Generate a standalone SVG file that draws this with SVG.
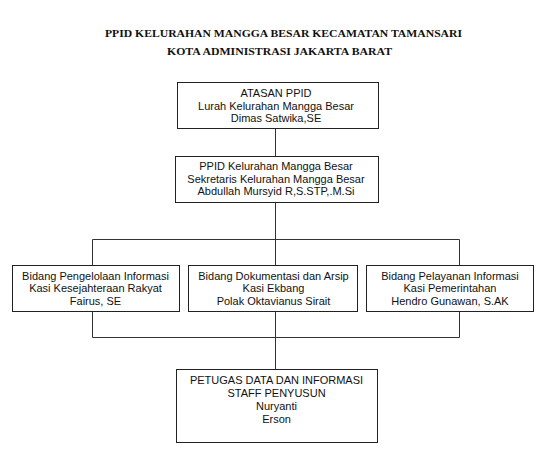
<svg xmlns="http://www.w3.org/2000/svg" width="547" height="468" viewBox="0 0 547 468">
<style>
.title{font-family:"Liberation Serif","DejaVu Serif",serif;font-weight:bold;font-size:11px;fill:#111;text-anchor:middle}
.box{fill:#fff;stroke:#222;stroke-width:1}
.t{font-family:"Liberation Sans",Arial,sans-serif;font-size:11px;fill:#111;text-anchor:middle}
.c{fill:none;stroke:#333;stroke-width:1}
</style>
<rect width="547" height="468" fill="#fff"/>
<g id="title">
<text class="title" x="283.5" y="37" textLength="357" lengthAdjust="spacingAndGlyphs">PPID KELURAHAN MANGGA BESAR KECAMATAN TAMANSARI</text>
<text class="title" x="279.5" y="55" textLength="225" lengthAdjust="spacingAndGlyphs">KOTA ADMINISTRASI JAKARTA BARAT</text>
</g>
<g id="connectors">
<path class="c" d="M275.5 128V156 M275.5 202V369 M92.5 239.5H459.5 M92.5 239.5V265 M459.5 239.5V265 M92.5 312V337.5 M459.5 312V337.5 M92.5 337.5H459.5"/>
</g>
<g id="atasan">
<rect class="box" x="177.5" y="82.5" width="201" height="46"/>
<text class="t" x="276" y="97">ATASAN PPID</text>
<text class="t" x="276" y="109.5">Lurah Kelurahan Mangga Besar</text>
<text class="t" x="276" y="122">Dimas Satwika,SE</text>
</g>
<g id="ppid">
<rect class="box" x="175.5" y="156.5" width="203" height="46"/>
<text class="t" x="276" y="170">PPID Kelurahan Mangga Besar</text>
<text class="t" x="276" y="182.5">Sekretaris Kelurahan Mangga Besar</text>
<text class="t" x="276" y="195">Abdullah Mursyid R,S.STP,.M.Si</text>
</g>
<g id="bidang-pengelolaan">
<rect class="box" x="12.5" y="265.5" width="167" height="46"/>
<text class="t" x="95.5" y="279.5">Bidang Pengelolaan Informasi</text>
<text class="t" x="95.5" y="292">Kasi Kesejahteraan Rakyat</text>
<text class="t" x="95.5" y="304.5">Fairus, SE</text>
</g>
<g id="bidang-dokumentasi">
<rect class="box" x="188.5" y="265.5" width="169" height="46"/>
<text class="t" x="273.5" y="279.5">Bidang Dokumentasi dan Arsip</text>
<text class="t" x="273.5" y="292">Kasi Ekbang</text>
<text class="t" x="273.5" y="304.5">Polak Oktavianus Sirait</text>
</g>
<g id="bidang-pelayanan">
<rect class="box" x="366.5" y="265.5" width="167" height="46"/>
<text class="t" x="450" y="279.5">Bidang Pelayanan Informasi</text>
<text class="t" x="450" y="292">Kasi Pemerintahan</text>
<text class="t" x="450" y="304.5">Hendro Gunawan, S.AK</text>
</g>
<g id="petugas">
<rect class="box" x="176.5" y="369.5" width="201" height="73"/>
<text class="t" x="276.5" y="383.5">PETUGAS DATA DAN INFORMASI</text>
<text class="t" x="276.5" y="396.5">STAFF PENYUSUN</text>
<text class="t" x="276.5" y="410">Nuryanti</text>
<text class="t" x="276.5" y="423">Erson</text>
</g>
</svg>
